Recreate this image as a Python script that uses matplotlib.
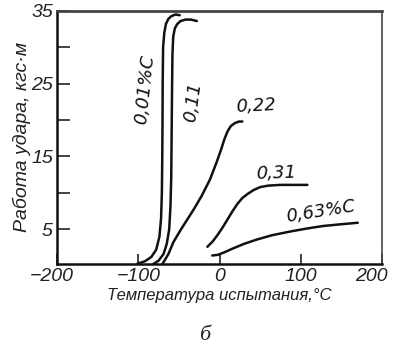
import matplotlib
matplotlib.use("Agg")
import matplotlib.pyplot as plt
from matplotlib.ticker import FixedLocator, FuncFormatter
from matplotlib.transforms import ScaledTranslation

# Data (temperature, °C ; impact work, kgf·m)
t_001 = [-101, -92, -84, -78, -74, -72, -71, -70.5, -70.2, -70, -69.5, -68, -66, -63, -59, -54, -49]
a_001 = [0.3, 0.6, 1.2, 2.2, 4.0, 6.5, 10, 15, 20, 25, 30, 32.0, 33.2, 33.9, 34.3, 34.5, 34.4]

t_011 = [-82, -75, -69, -65, -62, -60.5, -59.5, -59, -58.5, -58, -57, -55, -52, -48, -42, -35, -28]
a_011 = [0.2, 0.7, 1.6, 3.0, 5.0, 8.0, 12, 18, 24, 29, 31.5, 32.6, 33.2, 33.6, 33.8, 33.8, 33.6]

t_022 = [-70, -63, -57, -48, -40, -32, -22, -12, -4, 2, 6, 10, 14, 19, 24, 28]
a_022 = [0.3, 1.6, 3.2, 4.9, 6.3, 7.7, 9.6, 11.8, 14.1, 16.0, 17.4, 18.5, 19.2, 19.6, 19.8, 19.8]

t_031 = [-15, -8, -2, 4, 10, 16, 22, 28, 35, 42, 50, 60, 75, 90, 108]
a_031 = [2.6, 3.4, 4.3, 5.3, 6.4, 7.5, 8.5, 9.3, 9.9, 10.4, 10.8, 11.0, 11.1, 11.1, 11.1]

t_063 = [-9, -2, 5, 15, 30, 46, 65, 87, 107, 127, 150, 170]
a_063 = [1.4, 1.5, 1.8, 2.3, 3.0, 3.6, 4.2, 4.7, 5.1, 5.45, 5.7, 5.9]

curve_labels = ["0,01%C", "0,11", "0,22", "0,31", "0,63%C"]
x_ticks = [-200, -100, 0, 100, 200]
y_labeled = [5, 15, 25, 35]
y_ticks = [5, 10, 15, 20, 25, 30, 35]

fig = plt.figure(figsize=(3.96, 3.5), dpi=100)
ax = fig.add_axes([0.144, 0.246, 0.821, 0.723])

for t, a in [(t_001, a_001), (t_011, a_011), (t_022, a_022), (t_031, a_031), (t_063, a_063)]:
    ax.plot(t, a, color="#111111", lw=1.8, solid_capstyle="round", solid_joinstyle="round")

ax.set_xlim(-200, 200)
ax.set_ylim(0.25, 35)

ax.xaxis.set_major_locator(FixedLocator(x_ticks))
ax.yaxis.set_major_locator(FixedLocator(y_ticks))
ax.xaxis.set_major_formatter(FuncFormatter(lambda v, p: ("\u2212%d" % -v) if v < 0 else "%d" % v))
ax.yaxis.set_major_formatter(FuncFormatter(lambda v, p: "%d" % v if int(round(v)) in y_labeled else ""))

ax.tick_params(axis="both", direction="in", colors="#222222", width=1.2,
               labelsize=14, labelcolor="#222222")
ax.tick_params(axis="y", length=9, pad=3)
ax.tick_params(axis="x", length=7, pad=3)
for lab in ax.get_xticklabels() + ax.get_yticklabels():
    lab.set_fontstyle("italic")
    lab.set_family("Liberation Sans")

# shift the end x tick labels inward like in the reference
xlabs = ax.get_xticklabels()
xlabs[0].set_transform(xlabs[0].get_transform() + ScaledTranslation(-5 / 100, 0, fig.dpi_scale_trans))
xlabs[-1].set_transform(xlabs[-1].get_transform() + ScaledTranslation(-11 / 100, 0, fig.dpi_scale_trans))

for side in ["left", "bottom"]:
    ax.spines[side].set_linewidth(1.8)
    ax.spines[side].set_color("#111111")
ax.spines["top"].set_linewidth(2.0)
ax.spines["top"].set_color("#444444")
ax.spines["right"].set_linewidth(1.2)
ax.spines["right"].set_color("#444444")

ax.set_ylabel("Работа удара, кгс·м", fontsize=14, style="italic",
              family="Liberation Sans", color="#222222", labelpad=0)
ax.set_xlabel("Температура испытания,°C", fontsize=12, style="italic",
              family="Liberation Sans", color="#222222", labelpad=2)

lab_kw = dict(fontsize=13, style="italic", family="DejaVu Sans", color="#111111",
              ha="center", va="center")
ax.text(-92, 24.2, curve_labels[0], rotation=84, **lab_kw)
ax.text(-33, 22.5, curve_labels[1], rotation=82, **lab_kw)
ax.text(45, 21.9, curve_labels[2], rotation=3, **lab_kw)
ax.text(69, 12.7, curve_labels[3], rotation=2, **lab_kw)
ax.text(124, 7.4, curve_labels[4], rotation=9, **lab_kw)

fig.text(205 / 396, 1 - 336 / 350, "б", fontsize=16, style="italic", family="Liberation Serif",
         color="#222222", ha="center", va="center")

fig.savefig("out.png", dpi=100)
